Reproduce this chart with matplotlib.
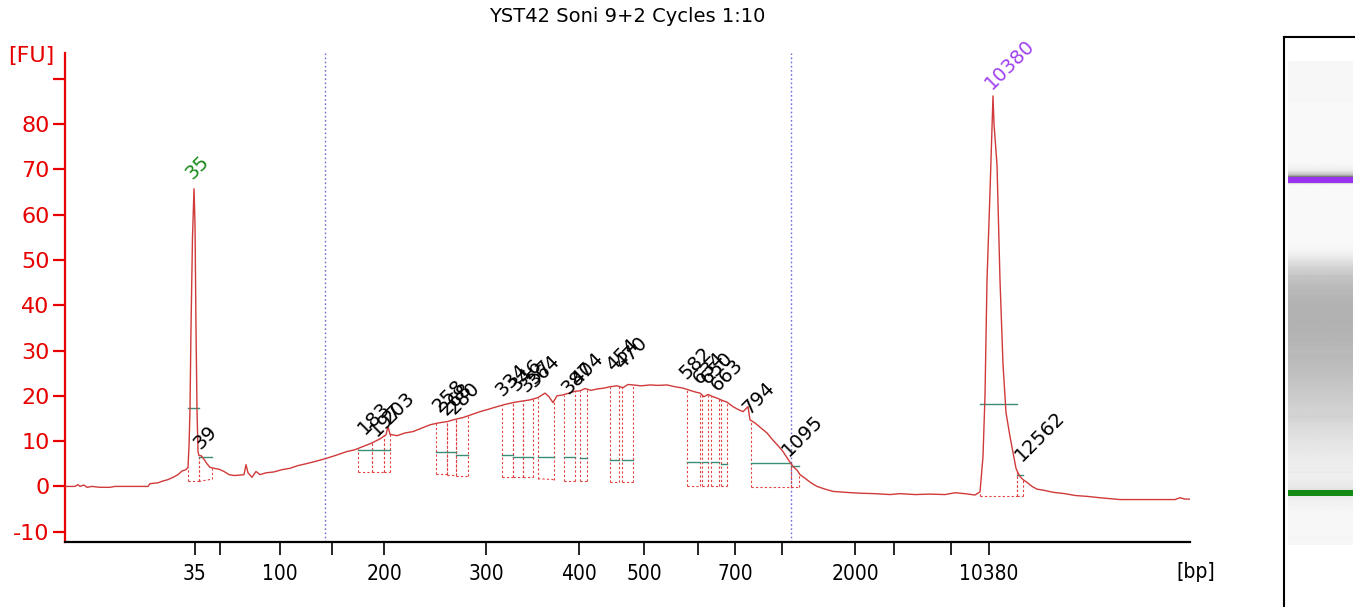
import numpy as np
import matplotlib
matplotlib.use("Agg")
import matplotlib.pyplot as plt

# ---------------- data ----------------
title = "YST42 Soni 9+2 Cycles 1:10"

# electropherogram trace: migration position (s) vs fluorescence (FU)
time_s = [20.0, 21.0, 21.3, 21.5, 21.9, 22.2, 22.7, 23.5, 24.5, 25.0, 26.5, 28.3,
          28.5, 29.3, 29.8, 30.3, 30.8, 31.3, 31.7, 32.1, 32.3, 32.4, 32.5, 32.6,
          32.75, 32.9, 33.0, 33.1, 33.2, 33.3, 33.4, 33.6, 33.9, 34.2, 34.5, 34.9,
          35.4, 35.9, 36.4, 36.9, 37.5, 37.9, 38.1, 38.3, 38.7, 39.1, 39.5, 40.1,
          40.9, 41.7, 42.5, 43.3, 44.1, 45.0, 46.0, 47.0, 48.2, 49.0, 49.8, 50.7,
          51.5, 52.1, 52.3, 52.5, 53.2, 54.0, 54.8, 55.6, 56.5, 57.3, 58.2, 59.0,
          59.8, 60.7, 61.5, 62.3, 63.2, 64.0, 64.8, 65.6, 66.5, 67.3, 68.0, 68.4,
          68.8, 69.2, 69.8, 70.4, 71.0, 71.5, 72.0, 72.6, 73.2, 73.9, 74.5, 75.2,
          75.8, 76.3, 76.8, 77.6, 78.5, 79.3, 80.2, 81.0, 81.8, 82.5, 83.1, 83.5,
          83.9, 84.3, 84.8, 85.2, 85.7, 86.2, 86.8, 87.3, 87.8, 88.3, 88.5, 89.0,
          89.6, 90.2, 90.8, 91.3, 91.8, 92.3, 92.8, 93.2, 93.5, 94.0, 94.6, 95.2,
          96.0, 96.8, 98.0, 99.5, 101.0, 102.5, 103.5, 105.0, 106.5, 108.0, 109.0,
          110.0, 111.0, 111.5, 111.8, 112.0, 112.2, 112.5, 112.8, 112.9, 113.2,
          113.5, 113.8, 114.1, 114.5, 114.8, 115.1, 115.3, 115.5, 115.8, 116.2,
          116.7, 117.2, 118.0, 118.8, 120.0, 121.0, 122.2, 123.5, 125.5, 127.5,
          128.8, 131.0, 131.5, 132.0, 132.7]
fu = [0.0, 0.0, 0.4, 0.0, 0.3, -0.2, 0.0, -0.2, -0.2, 0.0, 0.0, 0.0,
      0.6, 0.8, 1.2, 1.5, 2.0, 2.6, 3.4, 3.7, 4.2, 8.8, 17.0, 35.0,
      55.0, 65.7, 58.0, 35.0, 17.0, 7.7, 6.8, 6.8, 6.0, 5.0, 4.2, 4.0,
      3.8, 3.3, 2.6, 2.4, 2.5, 2.6, 4.8, 3.0, 2.0, 3.3, 2.6, 3.0,
      3.2, 3.7, 4.0, 4.6, 5.0, 5.5, 6.1, 6.8, 7.7, 8.1, 8.8, 9.6,
      10.5, 11.4, 13.2, 11.5, 11.2, 11.8, 12.1, 12.8, 13.6, 14.0, 14.3, 14.8,
      15.2, 15.9, 16.5, 17.0, 17.6, 18.1, 18.5, 18.8, 19.1, 19.6, 20.6, 19.8,
      18.5, 20.0, 20.2, 20.6, 21.0, 21.1, 21.6, 21.2, 21.5, 21.7, 22.0, 22.2,
      21.8, 22.5, 22.4, 22.2, 22.4, 22.3, 22.4, 22.0, 21.7, 21.2, 20.8, 20.6,
      19.8, 20.3, 19.8, 19.5, 19.0, 18.6, 17.6, 17.0, 16.5, 17.6, 14.7, 14.0,
      12.9, 11.8, 10.2, 9.0, 7.7, 6.0, 4.4, 3.6, 2.6, 1.8, 0.8, 0.0,
      -0.6, -1.1, -1.3, -1.5, -1.6, -1.8, -1.6, -1.8, -1.7, -1.8, -1.4,
      -1.6, -1.9, -1.2, 6.6, 20.0, 45.5, 65.0, 86.2, 80.0, 71.0,
      45.5, 27.0, 16.3, 11.0, 7.5, 4.0, 3.0, 2.2, 1.5, 0.9,
      0.0, -0.6, -0.9, -1.3, -1.6, -2.0, -2.2, -2.5, -2.9, -2.9,
      -2.9, -2.9, -2.5, -2.8, -2.8]

# x-axis ticks (migration positions) and their size labels
tick_pos = [32.95, 35.5, 41.5, 46.65, 51.9, 62.1, 71.4, 77.9, 83.3, 87.0, 91.7,
            99.0, 102.9, 108.6, 112.4]
tick_lab = ["35", "", "100", "", "200", "300", "400", "500", "", "700", "",
            "2000", "", "", "10380"]
y_ticks = [-10, 0, 10, 20, 30, 40, 50, 60, 70, 80, 90]
y_tick_lab = ["-10", "0", "10", "20", "30", "40", "50", "60", "70", "80", ""]

# region-of-interest markers
region_lines = [46.0, 92.6]

# called peaks
peak_labels = ["35", "39", "183", "197", "203", "258", "268", "280", "334", "346",
               "357", "364", "387", "404", "454", "470", "582", "634", "650", "663",
               "794", "1095", "10380", "12562"]
peak_left = [32.3, 33.4, 49.3, 50.7, 51.9, 57.1, 58.2, 59.1, 63.7, 64.8, 65.8, 67.3,
             69.9, 71.5, 74.5, 75.7, 82.2, 83.7, 84.6, 85.6, 88.6, 92.6, 111.5, 115.2]
peak_right = [33.4, 34.7, 50.7, 51.9, 52.5, 58.2, 59.1, 60.3, 64.8, 65.8, 66.8, 68.9,
              71.0, 72.2, 75.4, 76.8, 83.5, 84.3, 85.4, 86.2, 92.6, 93.4, 115.2, 115.8]
peak_base_l = [1.1, 1.1, 3.1, 3.1, 3.1, 2.8, 2.5, 2.2, 2.0, 2.0, 2.0, 1.7,
               1.3, 1.3, 0.9, 0.9, 0.2, 0.2, 0.2, 0.2, -0.2, -0.2, -2.2, -2.2]
peak_base_r = [1.1, 1.6, 3.1, 3.1, 3.1, 2.8, 2.5, 2.2, 2.0, 2.0, 2.0, 1.5,
               1.3, 1.3, 0.9, 0.9, 0.2, 0.2, 0.2, 0.2, -0.2, -0.2, -2.2, -2.2]
peak_level = [17.4, 6.6, 8.1, 8.1, 8.1, 7.7, 7.6, 7.0, 7.0, 6.6, 6.6, 6.6,
              6.4, 6.3, 5.9, 5.9, 5.3, 5.3, 5.3, 5.0, 5.1, 4.6, 18.2, 2.6]
label_x = [32.7, 33.5, 50.0, 51.2, 52.5, 57.5, 58.2, 59.0, 63.8, 65.2, 66.2, 67.0,
           70.3, 71.3, 74.8, 75.7, 82.2, 83.5, 84.3, 85.3, 88.4, 92.4, 112.7, 115.7]
label_y = [67.6, 8.0, 11.4, 10.9, 13.6, 16.2, 15.5, 15.7, 19.7, 20.9, 20.6, 21.7,
           20.2, 22.2, 25.3, 25.7, 23.5, 22.4, 22.4, 20.8, 15.8, 6.5, 87.5, 5.4]
lower_marker, upper_marker = "35", "10380"

# ---------------- style ----------------
RED = "#e60000"
TRACE = "#d03a3a"
TEAL = "#3c8c78"
GREEN = "#1a8a1a"
PURPLE = "#a040f0"

W, H = 1355, 607
fig = plt.figure(figsize=(W / 100, H / 100), dpi=100)
ax = fig.add_axes([65 / W, 1 - 542 / H, 1125 / W, (542 - 53) / H])
ax.set_xlim(20, 132.5)
ax.set_ylim(-12.27, 95.67)

t = np.array(time_s)
f = np.array(fu)

# region lines
for xr in region_lines:
    ax.axvline(xr, color="#6c6cd8", lw=1.0, ls=(0, (1.2, 1.8)), zorder=1)

# peak boxes
for L, R, bl, br, lev in zip(peak_left, peak_right, peak_base_l, peak_base_r, peak_level):
    yl = np.interp(L, t, f)
    yr = np.interp(R, t, f)
    ax.plot([L, L], [bl, yl], color="#e04040", lw=0.8, ls=(0, (2, 2)), zorder=2)
    ax.plot([R, R], [br, yr], color="#e04040", lw=0.8, ls=(0, (2, 2)), zorder=2)
    ax.plot([L, R], [bl, br], color="#e04040", lw=0.8, ls=(0, (2, 2)), zorder=2)
    ax.plot([L, R], [lev, lev], color=TEAL, lw=1.0, zorder=3)

ax.plot(t, f, color=TRACE, lw=1.0, zorder=4)

for lab, lx, ly in zip(peak_labels, label_x, label_y):
    col = GREEN if lab == lower_marker else PURPLE if lab == upper_marker else "black"
    ax.text(lx, ly, lab, rotation=45, rotation_mode="anchor", ha="left",
            va="baseline", fontsize=14, color=col, zorder=5)

# axes styling
for s in ("top", "right"):
    ax.spines[s].set_visible(False)
ax.spines["left"].set_color(RED)
ax.spines["left"].set_linewidth(1.6)
ax.spines["bottom"].set_color("black")
ax.spines["bottom"].set_linewidth(1.6)

ax.set_yticks(y_ticks)
ax.set_yticklabels(y_tick_lab, fontsize=16, color=RED)
ax.tick_params(axis="y", direction="out", length=9, width=1.6, color=RED, pad=2)

ax.set_xticks(tick_pos)
ax.set_xticklabels(tick_lab, fontsize=15, fontstretch="condensed")
ax.tick_params(axis="x", direction="out", length=9, width=1.2, color="black", pad=7)

fig.text(8 / W, 1 - 56 / H, "[FU]", color=RED, fontsize=16, ha="left", va="center")
fig.text(1196 / W, 1 - 572 / H, "[bp]", color="black", fontsize=15,
         fontstretch="condensed", ha="center", va="center")
fig.text(627.5 / W, 1 - 17 / H, title, fontsize=14, ha="center", va="center")

# ---------------- gel lane ----------------
gax = fig.add_axes([1284 / W, 0, (W - 1284) / W, (H - 37) / H])
t_bottom, t_top = 3.80, 149.3
gax.set_xlim(0, 1)
gax.set_ylim(t_bottom, t_top)
gax.set_xticks([])
gax.set_yticks([])
for s in ("right", "bottom"):
    gax.spines[s].set_visible(False)
gax.spines["left"].set_linewidth(1.5)
gax.spines["top"].set_linewidth(1.5)

lane_lo, lane_hi = 19.6, 143.0
tg = np.linspace(lane_lo, lane_hi, 900)
fg = np.interp(tg, t, f, left=0.0, right=0.0)
gray = np.clip(0.965 - 0.012 * fg, 0.2, 0.975)
img = np.repeat(gray[:, None], 2, axis=1)
gax.imshow(img, cmap="gray", vmin=0, vmax=1, aspect="auto", origin="lower",
           extent=[0.056, 0.97, lane_lo, lane_hi], interpolation="bilinear")

lo_t = t[np.argmax(np.where(t < 60, f, -99))]
hi_t = t[np.argmax(np.where(t > 100, f, -99))]
gax.fill_between([0.056, 0.97], lo_t - 0.75, lo_t + 0.75, color="#138a13", lw=0)
gax.fill_between([0.056, 0.97], hi_t - 0.85, hi_t + 0.85, color="#9933ee", lw=0)

fig.savefig("out.png", dpi=100)
